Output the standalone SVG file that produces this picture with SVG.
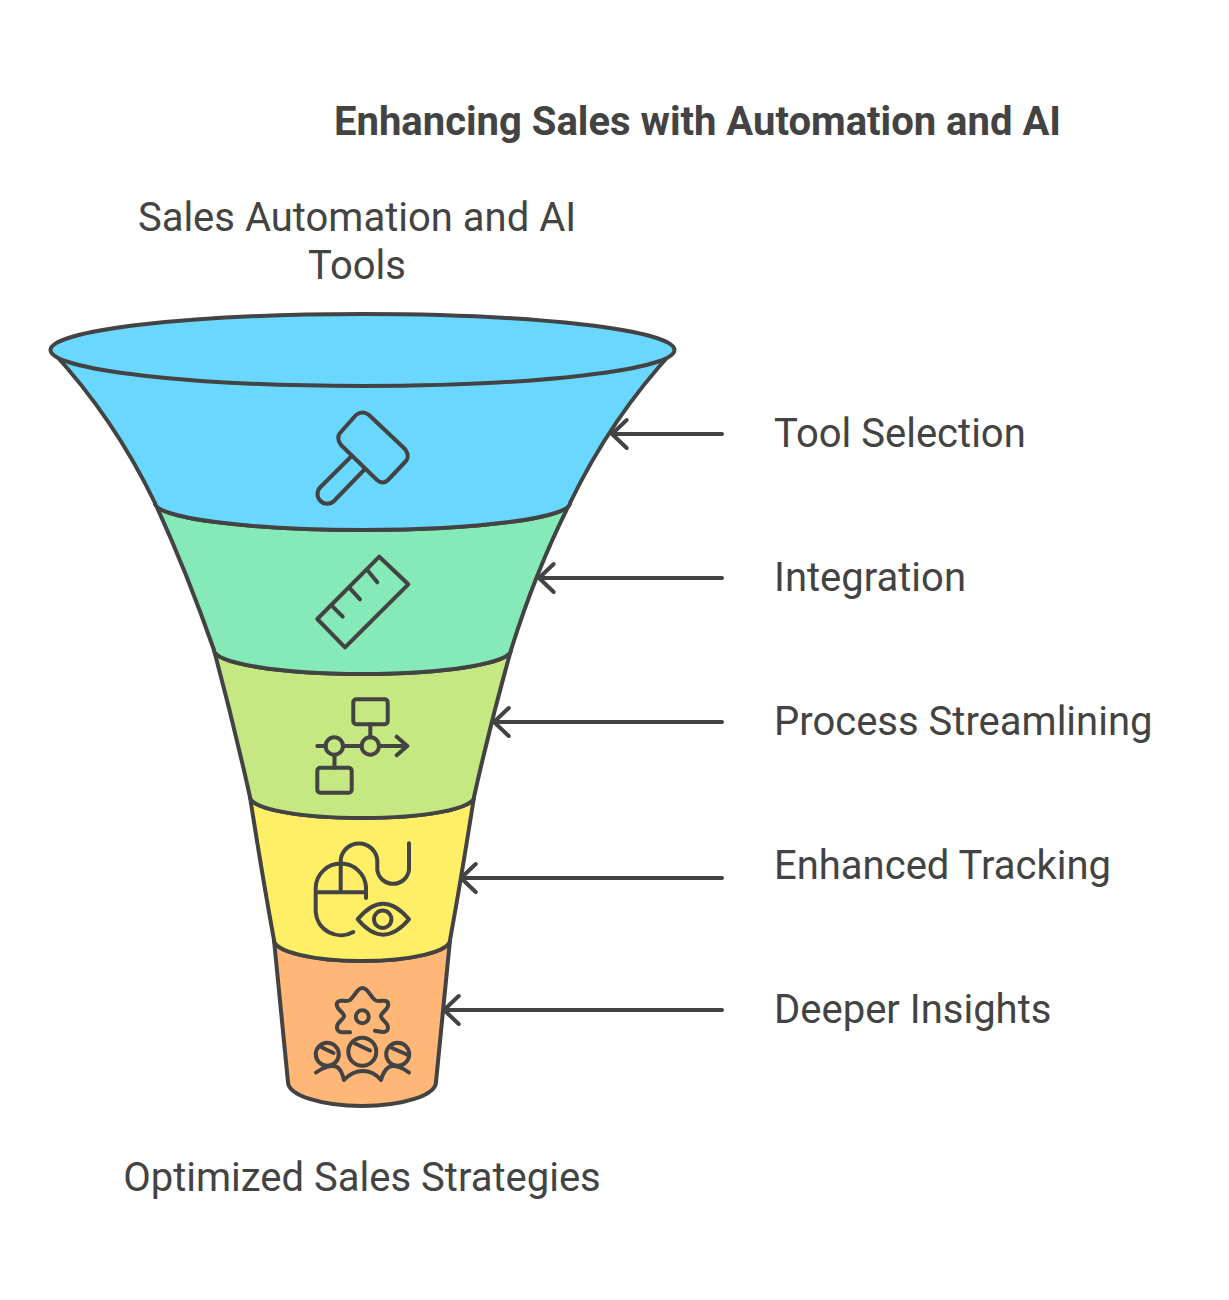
<svg xmlns="http://www.w3.org/2000/svg" width="1229" height="1300" viewBox="0 0 1229 1300">
<style>
text{font-family:Roboto,"Liberation Sans",sans-serif;fill:#434343;font-size:40px}
.t{font-weight:700}
.m{text-anchor:middle}
.s{stroke:#434343;stroke-width:4;stroke-linecap:round;stroke-linejoin:round}
.i{fill:none;stroke:#434343;stroke-width:4;stroke-linecap:round;stroke-linejoin:round}
</style>
<rect width="1229" height="1300" fill="#fff"/>
<text class="t" x="334" y="135">Enhancing Sales with Automation and AI</text>
<text class="m" x="357" y="231">Sales Automation and AI</text>
<text class="m" x="357" y="279">Tools</text>
<text class="m" x="362" y="1191">Optimized Sales Strategies</text>
<g id="layer5">
<path class="s" fill="#FFB778" d="M274 940 L288 1082 A74 24 0 0 0 436 1082 L450 940 A88 21 0 0 1 274 940Z"/>
<path class="i" d="M350 1032.3 C344 1032 338 1034 337 1028 C336 1022 344 1020 344 1016 C344 1012 335 1009 337 1003 C339 998 346 1003 350 1000 C355 996 357 988 362.3 988 C368 988 370 996 375 1000 C379 1003 387 998 388 1003 C390 1009 381 1012 381 1016 C381 1020 389 1023 388 1028 C387 1034 381 1032 375 1030.7"/>
<circle class="i" cx="362.3" cy="1016.7" r="6.5"/>
<circle class="i" cx="327.3" cy="1054.3" r="11.5"/><path class="i" d="M322 1047.5 L333.5 1053"/>
<circle class="i" cx="362.3" cy="1051.7" r="14"/><path class="i" d="M355 1043.5 L370 1050.5"/>
<circle class="i" cx="397.7" cy="1054.3" r="11.5"/><path class="i" d="M392 1048 L408 1055"/>
<path class="i" d="M316 1072.5 C322 1068 332 1064 337 1067 C341 1069 343 1076 344 1080 C355 1068 371 1068 381 1080 C382 1076 385 1069 389 1067 C394 1064 403 1068 409 1072.5"/>
</g>
<g id="layer4">
<path class="s" fill="#FFEF66" d="M250 797 Q263 880 274 940 A88 21 0 0 0 450 940 Q461 880 474 797 A112 21 0 0 1 250 797Z"/>
<path class="i" d="M366 898 V887 A25.2 25 0 0 0 315.7 887 V912 A25.2 25 0 0 0 353.3 932 M315.7 892.3 H366 M340.7 862 V892.3"/>
<path class="i" d="M340.7 861.7 A18 18 0 0 1 377.3 861.7 V870 A16 16 0 0 0 409 870 V843.3"/>
<path class="i" d="M357.7 919.3 Q383 888 409 919.3 Q383 950 357.7 919.3Z"/>
<circle class="i" cx="382.7" cy="919.3" r="8.7"/>
</g>
<g id="layer3">
<path class="s" fill="#C6E883" d="M214 650 Q234 725 250 797 A112 21 0 0 0 474 797 Q490 725 511 650 A148.5 24 0 0 1 214 650Z"/>
<rect class="i" x="353.3" y="699.3" width="34.4" height="25" rx="3"/>
<rect class="i" x="317.3" y="767.7" width="34.4" height="25" rx="3"/>
<path class="i" d="M370.3 724.3 V737.3 M334.5 754.7 V767.7 M317.3 746 H325.6 M343 746 H361.6 M379 746 H407.3 M396.7 736.7 L407.3 746 L396.7 755.3"/>
<circle class="i" cx="334.3" cy="746" r="8.7"/>
<circle class="i" cx="370.3" cy="746" r="8.7"/>
</g>
<g id="layer2">
<path class="s" fill="#86EAB8" d="M155 503 Q186 570 214 650 A148.5 24 0 0 0 511 650 Q536 570 570 503 A207.5 27 0 0 1 155 503Z"/>
<path class="i" d="M379.3 556.7 L408.3 584.3 L345 647.3 L317.3 619Z M367.3 570 L377.3 582.3 M350 588.3 L360 599.3 M332.7 606.7 L342.7 616.7"/>
</g>
<g id="layer1">
<path class="s" fill="#6AD7FF" d="M51 350 C90 392 127 445 155 503 A207.5 27 0 0 0 570 503 C598 445 635 392 674 350Z"/>
<ellipse class="s" fill="#6AD7FF" cx="362.5" cy="350" rx="312" ry="36"/>
<path class="i" d="M356 415 Q362.7 410 369 415 L405 449 Q410 456 406 461 L388 480 Q383 485 377 480 L341 445 Q336 438 340 433Z"/>
<path class="i" d="M351.7 456 L320.5 487 A9.5 9.5 0 0 0 334 501 L364 470"/>
</g>
<g id="connectors" class="i">
<path d="M722 434 H612 M626.7 420 L612 434 L626.7 448"/>
<path d="M722 578 H539 M553.7 564 L539 578 L553.7 592"/>
<path d="M722 722 H494 M508.7 708 L494 722 L508.7 736"/>
<path d="M722 878 H461 M475.7 864 L461 878 L475.7 892"/>
<path d="M722 1010 H444 M458.7 996 L444 1010 L458.7 1024"/>
</g>
<text x="774" y="447">Tool Selection</text>
<text x="774" y="591">Integration</text>
<text x="774" y="735">Process Streamlining</text>
<text x="774" y="879">Enhanced Tracking</text>
<text x="774" y="1023">Deeper Insights</text>
</svg>
